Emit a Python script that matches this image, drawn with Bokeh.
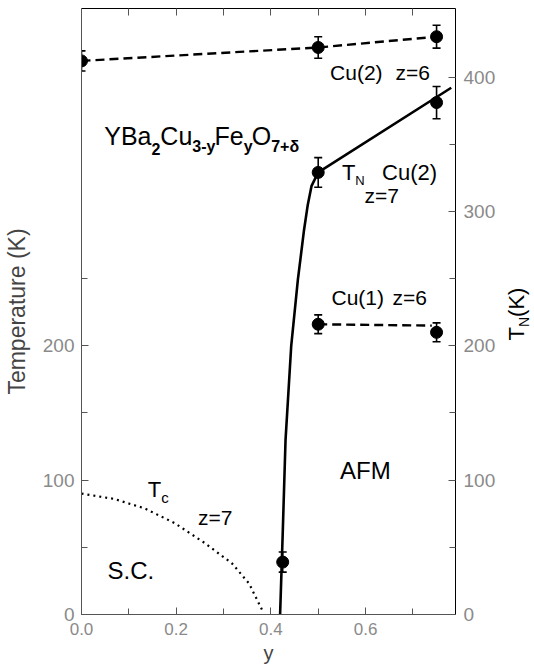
import math
from bokeh.plotting import figure
from bokeh.layouts import row
from bokeh.models import LinearAxis, FixedTicker, Whisker, TeeHead, ColumnDataSource, Label, Range1d
from bokeh.embed import file_html
from bokeh.resources import INLINE

# ---------------- data ----------------
# Cu(2) z=6 (dashed, top)
cu2_z6_y = [0.0, 0.5, 0.75]
cu2_z6_T = [412, 422, 430]
cu2_z6_err = [7.5, 8, 8.5]

# T_N Cu(2) z=7 (solid boundary) measured points
cu2_z7_y = [0.425, 0.5, 0.75]
cu2_z7_T = [39, 329, 381]
cu2_z7_err = [7.5, 11, 12]

# Cu(1) z=6 points
cu1_z6_y = [0.5, 0.75]
cu1_z6_T = [216, 210]
cu1_z6_err = [7, 7]

# solid T_N boundary
tn_line_y = [0.4195, 0.425, 0.431, 0.443, 0.457, 0.470, 0.478, 0.486, 0.5, 0.781]
tn_line_T = [0, 60, 130, 200, 249, 286, 305, 319, 329, 392]

# Cu(1) dashed guide
cu1_line_y = [0.5, 0.74]
cu1_line_T = [216, 215]

# Tc dotted curve
tc_y = [0.0, 0.069, 0.133, 0.197, 0.261, 0.318, 0.354, 0.382]
tc_T = [90, 86, 79, 68, 53, 38, 23, 3]

# ticks
x_major = [0.0, 0.2, 0.4, 0.6]
x_labels = ["0.0", "0.2", "0.4", "0.6"]
x_minor = [0.1, 0.3, 0.5, 0.7]
top_ticks = [0.0, 0.1, 0.2, 0.3, 0.4, 0.5, 0.6, 0.7]
left_major = [0, 100, 200]
left_minor = [50, 150, 250]
right_major = [0, 100, 200, 300, 400]
right_minor = [50, 150, 250, 350]

FONT = "Liberation Sans"
TICKCOL = "#8a8a8a"
AXCOL = "#555555"

p = figure(width=505, height=670, output_backend="svg", toolbar_location=None,
           x_range=Range1d(0, 0.79), y_range=Range1d(0, 451),
           min_border_left=80, min_border_right=50, min_border_top=8, min_border_bottom=56)
p.grid.visible = False
p.outline_line_color = None
p.background_fill_color = "white"
p.border_fill_color = "white"


def style_axis(ax, major, minor, labels=None, size=19):
    ax.ticker = FixedTicker(ticks=major, minor_ticks=minor)
    ax.major_tick_in = 7
    ax.major_tick_out = 0
    ax.minor_tick_in = 6
    ax.minor_tick_out = 0
    ax.axis_line_color = AXCOL
    ax.major_tick_line_color = AXCOL
    ax.minor_tick_line_color = AXCOL
    ax.major_label_text_font = FONT
    ax.major_label_text_font_size = f"{size}px"
    ax.major_label_text_color = TICKCOL
    ax.major_label_standoff = 7
    if labels is not None:
        ax.major_label_overrides = {t: s for t, s in zip(major, labels)}


# left
ly = p.yaxis[0]
style_axis(ly, left_major, left_minor)
ly.axis_label = "Temperature (K)"
ly.axis_label_text_font = FONT
ly.axis_label_text_font_size = "23px"
ly.axis_label_text_font_style = "normal"
ly.axis_label_standoff = 10

# bottom
bx = p.xaxis[0]
style_axis(bx, x_major, x_minor, x_labels, size=17)
bx.major_label_standoff = 8
bx.axis_label = "y"
bx.axis_label_text_font = FONT
bx.axis_label_text_font_size = "20px"
bx.axis_label_text_font_style = "normal"
bx.axis_label_standoff = 4

# right
ry = LinearAxis()
style_axis(ry, right_major, right_minor)
ry.major_label_standoff = 8
ry.axis_line_color = "black"
p.add_layout(ry, "right")

# top (ticks only)
tx = LinearAxis()
style_axis(tx, top_ticks, [], [""] * len(top_ticks))
tx.axis_line_color = "black"
tx.major_label_standoff = 0
p.add_layout(tx, "above")

# ---------------- curves ----------------
p.line(tc_y, tc_T, line_color="black", line_width=2.2, line_dash="2 4")
p.line(tn_line_y, tn_line_T, line_color="black", line_width=2.6)
p.line(cu2_z6_y, cu2_z6_T, line_color="black", line_width=2.4, line_dash="9 5")
p.line(cu1_line_y, cu1_line_T, line_color="black", line_width=2.4, line_dash="9 5")


def points(xs, ts, errs):
    src = ColumnDataSource(dict(x=xs, t=ts, lo=[a - b for a, b in zip(ts, errs)],
                                hi=[a + b for a, b in zip(ts, errs)]))
    w = Whisker(source=src, base="x", lower="lo", upper="hi", line_color="black", line_width=1.6,
                upper_head=TeeHead(size=8, line_color="black", line_width=1.6),
                lower_head=TeeHead(size=8, line_color="black", line_width=1.6))
    p.add_layout(w)
    p.scatter("x", "t", source=src, size=12, color="black", marker="circle")


points(cu2_z6_y, cu2_z6_T, cu2_z6_err)
points(cu2_z7_y, cu2_z7_T, cu2_z7_err)
points(cu1_z6_y, cu1_z6_T, cu1_z6_err)

# ---------------- texts ----------------
WID = {" ": 278, "(": 333, ")": 333, "+": 584, "-": 333, "=": 584, "B": 667, "C": 722, "F": 611,
       "K": 667, "N": 722, "O": 778, "T": 611, "Y": 667, "a": 556, "c": 500, "e": 556, "u": 556,
       "y": 500, "z": 500, "δ": 556}
for d in "0123456789":
    WID[d] = 556


def label(fig, text, x, y, size, style="normal", **kw):
    fig.add_layout(Label(x=x, y=y, text=text, text_font=FONT, text_font_size=f"{size}px",
                         text_font_style=style, text_color="black", **kw))


def compose(fig, pieces, x, y, rotate=False):
    off = 0.0
    for txt, size, drop, style in pieces:
        if rotate:
            label(fig, txt, x, y, size, style, x_offset=drop, y_offset=off, angle=math.pi / 2)
        else:
            label(fig, txt, x, y, size, style, x_offset=off, y_offset=-drop)
        off += sum(WID.get(c, 556) for c in txt) * size / 1000.0


compose(p, [("YBa", 25, 0, "normal"), ("2", 16, 5, "bold"), ("Cu", 25, 0, "normal"),
            ("3-y", 16, 5, "bold"), ("Fe", 25, 0, "normal"), ("y", 16, 5, "bold"),
            ("O", 25, 0, "normal"), ("7+δ", 16, 5, "bold")], 0.048, 346)

label(p, "Cu(2)", 0.525, 395, 21)
label(p, "z=6", 0.663, 395, 21)

compose(p, [("T", 22, 0, "normal"), ("N", 13, 3, "normal")], 0.55, 320)
label(p, "Cu(2)", 0.635, 320, 22)
label(p, "z=7", 0.598, 303, 21)

label(p, "Cu(1)", 0.528, 227, 21)
label(p, "z=6", 0.657, 227, 21)

label(p, "AFM", 0.546, 97, 24)
compose(p, [("T", 22, 0, "normal"), ("c", 15, 4, "normal")], 0.140, 84)
label(p, "z=7", 0.246, 64, 21)
label(p, "S.C.", 0.055, 23, 24)

# ---------------- right-hand title strip: T_N(K) ----------------
q = figure(width=29, height=670, output_backend="svg", toolbar_location=None,
           x_range=Range1d(0, 29), y_range=Range1d(0, 670), x_axis_type=None, y_axis_type=None,
           min_border=0)
q.grid.visible = False
q.outline_line_color = None
q.background_fill_color = "white"
q.border_fill_color = "white"
compose(q, [("T", 22, 0, "normal"), ("N", 14, 3, "normal"), ("(K)", 22, 0, "normal")],
        23, 303, rotate=True)

layout = row(p, q, spacing=0)
open("out.html", "w").write(file_html(layout, INLINE))
